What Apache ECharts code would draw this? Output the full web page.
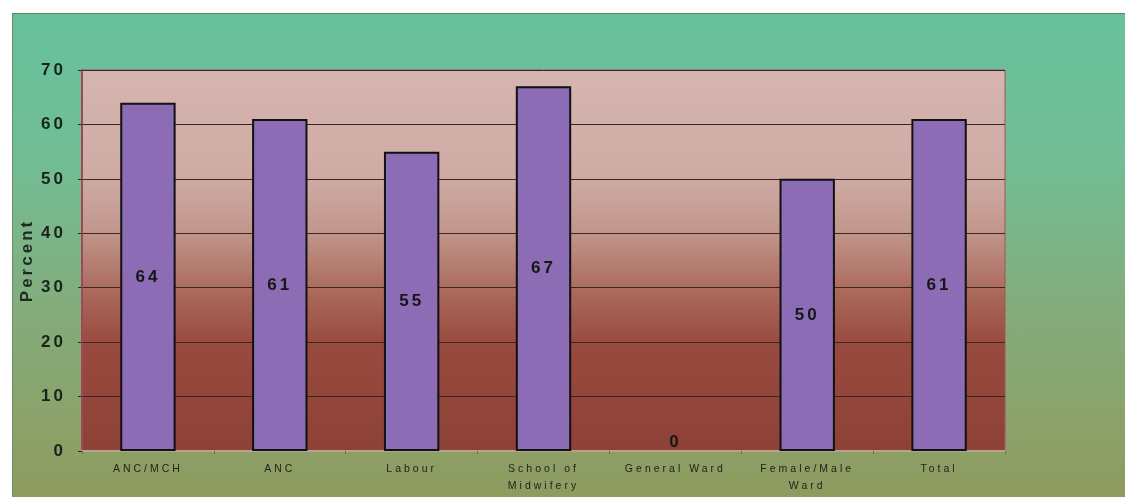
<!DOCTYPE html>
<html>
<head>
<meta charset="utf-8">
<script src="https://cdn.jsdelivr.net/npm/echarts@6/dist/echarts.min.js"></script>
<style>
  html, body { margin: 0; padding: 0; background: #ffffff; }
  #panel {
    position: absolute; left: 12px; top: 13px; right: 0; bottom: 0;
    background: linear-gradient(to bottom, #66c19b 0%, #72bd95 30%, #84ac7a 62%, #8f9b5f 100%);
    border-top: 1px solid #5f8a68; border-left: 1px solid #6b8a66;
  }
  #chart { position: absolute; left: 0; top: 0; width: 1125px; height: 497px; }
</style>
</head>
<body>
<div id="panel"></div>
<div id="chart"></div>
<script>
// Share of wards using the protocol, in percent
const categories = ['ANC/MCH', 'ANC', 'Labour', 'School of\nMidwifery', 'General Ward', 'Female/Male\nWard', 'Total'];
const percentValues = [64, 61, 55, 67, 0, 50, 61];
const yTicks = { min: 0, max: 70, interval: 10 };

const chart = echarts.init(document.getElementById('chart'), null, { renderer: 'canvas' });

// an empty bar shows only its value, sitting just above the baseline
const barData = percentValues.map(v => v === 0
  ? { value: v, itemStyle: { borderWidth: 0 }, label: { position: 'top', distance: 0 } }
  : v);

chart.setOption({
  backgroundColor: 'transparent',
  animation: false,
  grid: {
    left: 82, right: 120, top: 70, bottom: 46,
    show: true,
    borderColor: '#a8505c', borderWidth: 1,
    backgroundColor: {
      type: 'linear', x: 0, y: 0, x2: 0, y2: 1,
      colorStops: [
        { offset: 0, color: '#d6b5b0' },
        { offset: 0.28, color: '#cfaba4' },
        { offset: 0.42, color: '#c2978d' },
        { offset: 0.58, color: '#ab6a5c' },
        { offset: 0.72, color: '#984a3e' },
        { offset: 1, color: '#8e4136' }
      ]
    }
  },
  xAxis: {
    type: 'category',
    data: categories,
    axisLine: { lineStyle: { color: '#b5a48a', width: 2 } },
    axisTick: { show: true, length: 3, lineStyle: { color: '#6f6a55' } },
    axisLabel: {
      color: '#22231c', fontFamily: 'Arial, Liberation Sans, sans-serif',
      fontSize: 10.5, lineHeight: 17, margin: 10, interval: 0
    }
  },
  yAxis: {
    type: 'value',
    min: yTicks.min, max: yTicks.max, interval: yTicks.interval,
    name: 'Percent',
    nameLocation: 'middle', nameGap: 43, nameRotate: 90,
    nameTextStyle: { color: '#1c2a22', fontWeight: 'bold', fontSize: 17, fontFamily: 'Arial, Liberation Sans, sans-serif' },
    axisLine: { show: true, lineStyle: { color: '#a04858', width: 2 } },
    axisTick: { show: true, length: 4, lineStyle: { color: '#3a2a2a' } },
    axisLabel: {
      color: '#17241c', fontWeight: 'bold', fontSize: 17, margin: 16,
      fontFamily: 'Arial, Liberation Sans, sans-serif'
    },
    splitLine: { show: true, lineStyle: { color: '#3a2626', width: 1 } }
  },
  series: [{
    type: 'bar',
    data: barData,
    barWidth: '42%',
    itemStyle: { color: '#8c6cb4', borderColor: '#111111', borderWidth: 2 },
    label: {
      show: true, position: 'inside',
      color: '#161616', fontWeight: 'bold', fontSize: 17,
      fontFamily: 'Arial, Liberation Sans, sans-serif'
    }
  }]
});

// spaced-out lettering of the printed chart: widen glyph spacing, then repaint
const cv = document.querySelector('#chart canvas');
if (cv) {
  const ctx = cv.getContext('2d');
  if ('letterSpacing' in ctx) {
    ctx.letterSpacing = '3px';
    chart.getZr().painter.refresh(true);
  }
}
</script>
</body>
</html>
